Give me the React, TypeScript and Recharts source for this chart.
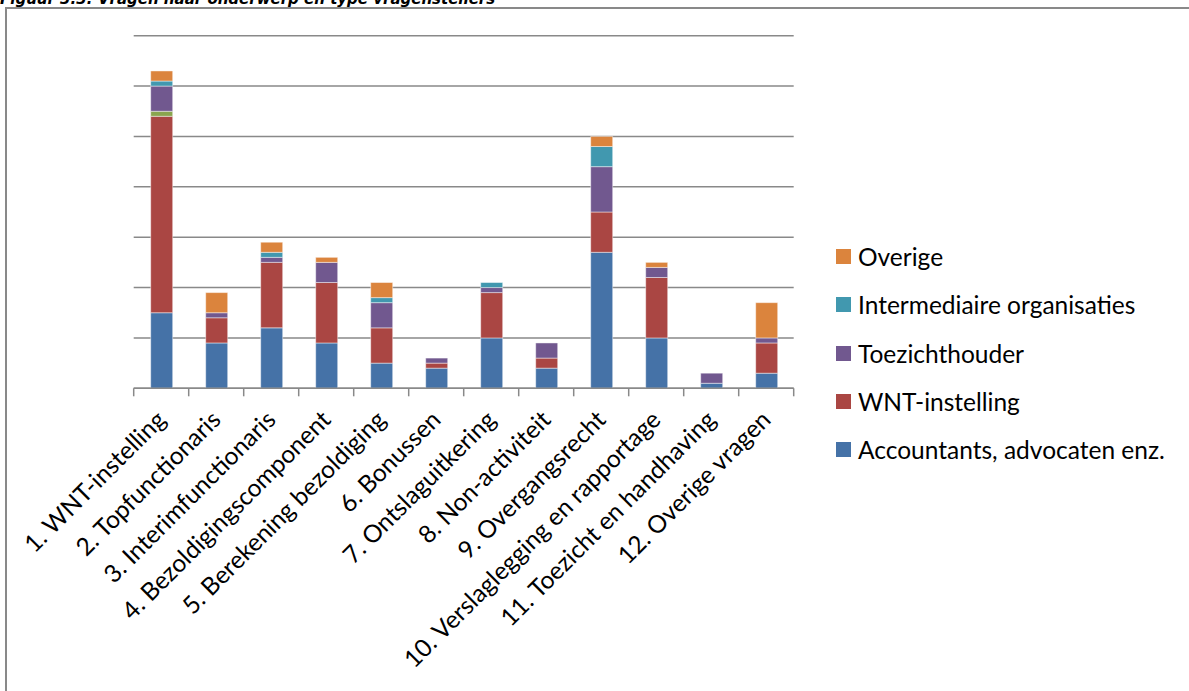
import React from "react";
import { BarChart, Bar, XAxis, YAxis, CartesianGrid, Legend } from "recharts";

// ---- Data ----
const categories = [
  "1. WNT-instelling",
  "2. Topfunctionaris",
  "3. Interimfunctionaris",
  "4. Bezoldigingscomponent",
  "5. Berekening bezoldiging",
  "6. Bonussen",
  "7. Ontslaguitkering",
  "8. Non-activiteit",
  "9. Overgangsrecht",
  "10. Verslaglegging en rapportage",
  "11. Toezicht en handhaving",
  "12. Overige vragen",
];

const accountants = [15, 9, 12, 9, 5, 4, 10, 4, 27, 10, 1, 3];
const wntInstelling = [39, 5, 13, 12, 7, 1, 9, 2, 8, 12, 0, 6];
const onbekend = [1, 0, 0, 0, 0, 0, 0, 0, 0, 0, 0, 0];
const toezichthouder = [5, 1, 1, 4, 5, 1, 1, 3, 9, 2, 2, 1];
const intermediair = [1, 0, 1, 0, 1, 0, 1, 0, 4, 0, 0, 0];
const overige = [2, 4, 2, 1, 3, 0, 0, 0, 2, 1, 0, 7];

const yTicks = [0, 10, 20, 30, 40, 50, 60, 70];

const titleText = "Figuur 3.3: Vragen naar onderwerp en type vragenstellers";

const data = categories.map((name, i) => ({
  name,
  accountants: accountants[i],
  wnt: wntInstelling[i],
  onbekend: onbekend[i],
  toezicht: toezichthouder[i],
  intermediair: intermediair[i],
  overige: overige[i],
}));

const series = [
  { key: "accountants", name: "Accountants, advocaten enz.", color: "#4572A7", legend: true },
  { key: "wnt", name: "WNT-instelling", color: "#AA4643", legend: true },
  { key: "onbekend", name: "Onbekend", color: "#89A54E", legend: false },
  { key: "toezicht", name: "Toezichthouder", color: "#71588F", legend: true },
  { key: "intermediair", name: "Intermediaire organisaties", color: "#4198AF", legend: true },
  { key: "overige", name: "Overige", color: "#DB843D", legend: true },
];

const gridColor = "#898989";
const labelFont = "Lato, 'Open Sans', sans-serif";
const labelSize = 24.5;

const CategoryTick = (props: any) => {
  const { x, y, payload, index } = props;
  const half = payload && typeof payload.offset === "number" && payload.offset > 0 ? payload.offset : 27.5;
  return (
    <g>
      <line x1={x - half} y1={y} x2={x - half} y2={y + 8} stroke={gridColor} strokeWidth={1.5} />
      {index === categories.length - 1 && (
        <line x1={x + half} y1={y} x2={x + half} y2={y + 8} stroke={gridColor} strokeWidth={1.5} />
      )}
      <text
        x={0}
        y={0}
        transform={`translate(${x + 6},${y + 33}) rotate(-45)`}
        textAnchor="end"
        fontFamily={labelFont}
        fontSize={labelSize}
        fill="#000"
      >
        {payload.value}
      </text>
    </g>
  );
};

const LegendContent = () => {
  const items = series.filter((s) => s.legend).slice().reverse();
  return (
    <div style={{ fontFamily: labelFont, fontSize: labelSize, color: "#000" }}>
      {items.map((it) => (
        <div
          key={it.key}
          style={{ height: 48.25, display: "flex", alignItems: "center", whiteSpace: "nowrap" }}
        >
          <span
            style={{
              display: "inline-block",
              width: 15,
              height: 15,
              background: it.color,
              marginRight: 7,
              flex: "none",
            }}
          />
          <span>{it.name}</span>
        </div>
      ))}
    </div>
  );
};

export default function App() {
  return (
    <div
      style={{
        position: "absolute",
        left: 0,
        top: 0,
        width: 1189,
        height: 691,
        overflow: "hidden",
        background: "#fff",
      }}
    >
      <div
        style={{
          position: "absolute",
          left: 0,
          top: -8.2,
          fontFamily: "'DejaVu Sans', Verdana, sans-serif",
          fontWeight: "bold",
          fontStyle: "italic",
          fontSize: 15,
          lineHeight: "15px",
          whiteSpace: "nowrap",
          color: "#000",
        }}
      >
        {titleText}
      </div>
      <div
        style={{
          position: "absolute",
          left: 4.5,
          top: 6.5,
          width: 1300,
          height: 800,
          borderLeft: `2px solid ${gridColor}`,
          borderTop: `2px solid ${gridColor}`,
          boxSizing: "border-box",
        }}
      />
      <div style={{ position: "absolute", left: 0, top: 0 }}>
        <BarChart
          width={1189}
          height={691}
          data={data}
          margin={{ top: 35.7, right: 395.3, bottom: 272.7, left: 133.7 }}
        >
          <CartesianGrid
            vertical={false}
            horizontalValues={yTicks}
            stroke={gridColor}
            strokeWidth={1.5}
          />
          <XAxis
            dataKey="name"
            height={30}
            interval={0}
            tickLine={false}
            tickSize={0}
            tickMargin={0}
            axisLine={{ stroke: gridColor, strokeWidth: 1.5 }}
            tick={<CategoryTick />}
          />
          <YAxis hide domain={[0, 70]} ticks={yTicks} />
          {series.map((s) => (
            <Bar
              key={s.key}
              dataKey={s.key}
              name={s.name}
              stackId="a"
              fill={s.color}
              stroke="rgba(255,255,255,0.45)"
              strokeWidth={1}
              barSize={22}
              legendType={s.legend ? "square" : "none"}
              isAnimationActive={false}
            />
          ))}
          <Legend
            content={<LegendContent />}
            layout="vertical"
            verticalAlign="middle"
            align="center"
            wrapperStyle={{ position: "absolute", left: 836, top: 232.4, width: 350, right: "auto", bottom: "auto" }}
          />
        </BarChart>
      </div>
    </div>
  );
}
